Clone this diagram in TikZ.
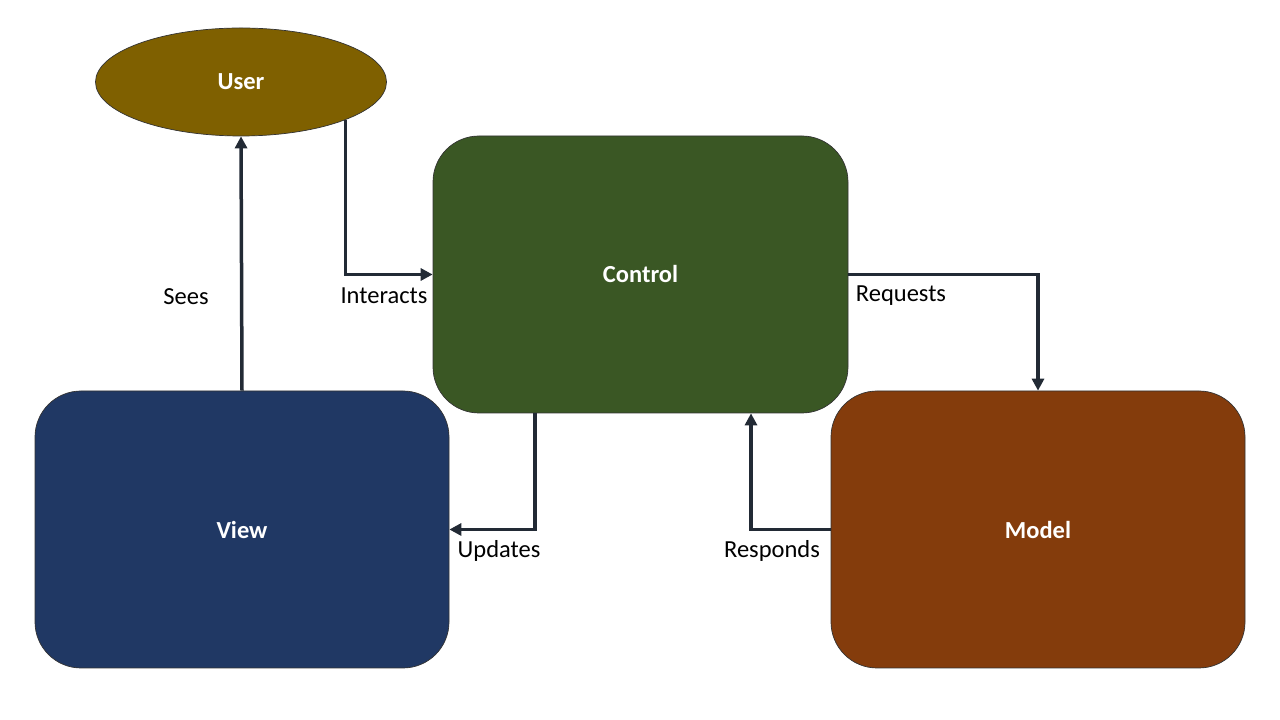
\documentclass[tikz,border=0pt]{standalone}
\usepackage{fontspec}
\setmainfont{Carlito}
\usetikzlibrary{shapes.geometric, arrows.meta}
\definecolor{usercol}{HTML}{7F6000}
\definecolor{ctrlcol}{HTML}{3A5724}
\definecolor{viewcol}{HTML}{203864}
\definecolor{modelcol}{HTML}{843C0C}
\definecolor{linecol}{HTML}{222A35}
\begin{document}
\begin{tikzpicture}[x=1pt, y=1pt]
\tikzstyle{blk}=[rectangle, rounded corners=46pt, draw=black!80, line width=0.7pt,
                        minimum width=414pt, minimum height=277pt, inner sep=0pt,
                        text=white, font=\fontsize{24.5}{28}\selectfont\bfseries]
\tikzstyle{conn}=[draw=linecol, line width=3.5pt,
                        -{Triangle[length=12pt, width=12pt]}]
\tikzstyle{lbl}=[font=\fontsize{24.5}{28}\selectfont, inner sep=0pt]
\useasboundingbox (0,0) rectangle (1280,720);
	\node[ellipse, draw=black!80, line width=0.7pt, fill=usercol, minimum width=291pt,
	      minimum height=108pt, inner sep=0pt, text=white,
	      font=\fontsize{24.5}{28}\selectfont\bfseries] (U) at (241,638){User};
	\node[blk, fill=ctrlcol, minimum width=415pt] (C) at (640.5,445.5){Control};
	\node[blk, fill=viewcol] (V) at (242,190.5){View};
	\node[blk, fill=modelcol] (M) at (1038,190.5){Model};
\draw[conn] (V.north)--(U.south);
\draw[conn] (U.-20) |- (C.west);
\draw[conn] (C.east) -| (M.north);
\draw[conn] ([xshift=-105.5pt]C.south) |- (V.east);
\draw[conn] (M.west) -| ([xshift=110.5pt]C.south);
	\node[lbl] (sees) at (186,423){Sees};
	\node[lbl] (interacts) at (384,424){Interacts};
	\node[lbl] (requests) at (901,424){Requests};
	\node[lbl] (updates) at (499,169){Updates};
	\node[lbl] (responds) at (772,169){Responds};
\end{tikzpicture}
\end{document}
